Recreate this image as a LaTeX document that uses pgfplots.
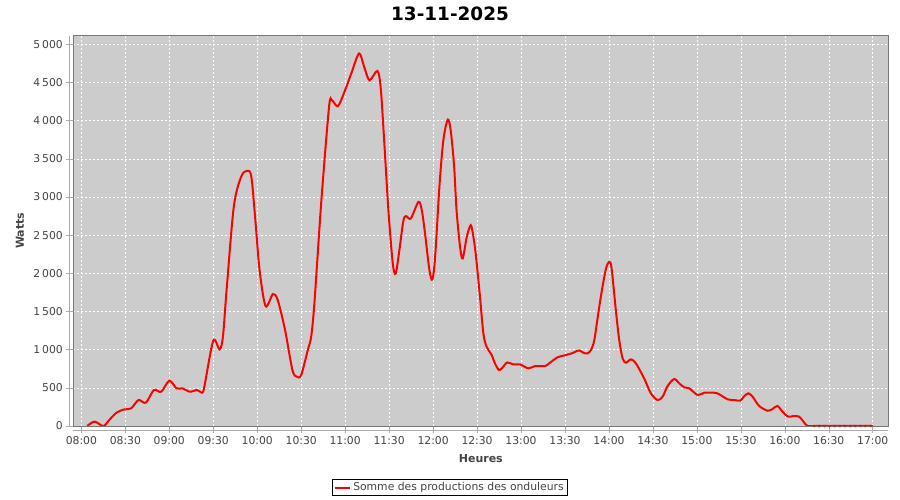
\documentclass[border=0pt]{standalone}
\usepackage{pgfplots}
\pgfplotsset{compat=1.18}
\usepackage{fontspec}
\setmainfont{DejaVu Sans}
\definecolor{plotbg}{RGB}{204,204,204}
\definecolor{txtgray}{RGB}{68,68,68}
\definecolor{bordergray}{RGB}{120,120,120}
\definecolor{axisgray}{RGB}{170,170,170}
\definecolor{linered}{RGB}{255,0,0}

\begin{document}
\begin{tikzpicture}[x=1pt,y=1pt]
\path[use as bounding box] (-73.3,-74) rectangle (826.7,426);
\begin{axis}[
  name=ax, at={(0,0)}, anchor=south west,
  scale only axis, width=815pt, height=390.3pt,
  xmin=-5.5, xmax=550.6, ymin=0, ymax=5113,
  axis background/.style={fill=plotbg},
  axis line style={bordergray, line width=0.8pt},
  grid=major,
  major grid style={white, dash pattern=on 2pt off 2pt, line width=0.6pt},
  xtick={0,30,...,540},
  xticklabels={08:00,08:30,09:00,09:30,10:00,10:30,11:00,11:30,12:00,12:30,13:00,13:30,14:00,14:30,15:00,15:30,16:00,16:30,17:00},
  ytick={0,500,...,5000},
  tick align=outside, major tick length=7pt,
  tick style={axisgray, line width=0.6pt},
  xtick pos=bottom, ytick pos=left,
  ticklabel style={font=\fontsize{10.8}{13}\selectfont, text=txtgray},
  /pgf/number format/assume math mode=true,
  /pgf/number format/1000 sep={\,},
  scaled y ticks=false,
  every axis title/.style={at={(axis description cs:0.4622,1.0556)}, anchor=center,
    font=\fontsize{18.4}{22}\selectfont\bfseries, text=black},
  title={13-11-2025},
  every axis x label/.style={at={(axis description cs:0.5,-0.0846)}, anchor=center,
    font=\fontsize{11}{13}\selectfont\bfseries, text=txtgray},
  every axis y label/.style={at={(axis description cs:-0.0654,0.5)}, anchor=center, rotate=90,
    font=\fontsize{11}{13}\selectfont\bfseries, text=txtgray},
  xlabel={Heures}, ylabel={Watts},
  legend style={at={(axis description cs:0.4622,-0.1576)}, anchor=center,
    draw=black, line width=0.8pt, fill=white,
    font=\fontsize{10.8}{13}\selectfont, text=txtgray,
    inner xsep=2pt, inner ysep=1pt},
  legend image code/.code={\draw[linered, line width=2pt] (0pt,0pt) -- (15pt,0pt);},
]
\addplot[linered, line width=2pt, smooth, tension=0.5] coordinates {
(4,0)(9,57)(15,0)(19,78)(24,175)(29.5,218)(34,231)(39,340)(44,305)(49.5,471)
(54.5,449)(60,593)(65,493)(69,493)(74,449)(79,471)(82.5,436)(84,523)(90,1117)
(94.3,1003)(96.6,1169)(99,1758)(104,2871)(109,3264)(113,3342)(116,3264)(119,2631)
(121.6,2042)(125.7,1571)(130.7,1728)(134,1649)(139,1257)(144,733)(147,646)(150,667)
(154.5,995)(156.8,1169)(159,1606)(163.7,2936)(169,4180)(171,4267)(175,4189)
(179.5,4376)(184.3,4625)(189.5,4880)(193,4703)(196.6,4529)(202,4651)(204.3,4420)
(206.6,3743)(209.5,2827)(212.5,2129)(214.5,1998)(217,2304)(219.7,2688)(221.6,2749)
(224.8,2718)(230,2936)(232.3,2827)(234.5,2522)(237.5,2042)(239.5,1920)(241.4,2216)
(244.3,3133)(247,3743)(250,4014)(252,3874)(254.3,3416)(256,2827)(258.4,2347)
(260.2,2195)(263,2478)(265.7,2631)(267.5,2478)(269.3,2216)(272,1693)(274.3,1213)
(276.5,1038)(280,929)(282.2,820)(285,733)(287.5,768)(290.6,833)(294.7,807)
(299.3,807)(305,755)(309.5,785)(316.3,785)(319.8,829)(324.8,899)(329.6,925)
(334.5,951)(339.5,990)(342.5,960)(345.3,951)(347.7,995)(350,1126)(352.7,1475)
(355.2,1780)(358,2064)(360.2,2151)(361.8,2064)(364.8,1497)(367,1126)(369.3,886)
(371.6,829)(375,873)(378.4,820)(384,624)(388.6,428)(393.2,340)(396.6,384)
(400,523)(404.5,615)(408,558)(411.4,506)(414.8,493)(420.5,406)(425,436)
(429.6,436)(434,428)(441,349)(445.5,340)(449.6,332)(452,384)(455,428)(458,384)
(462.5,262)(468.2,200)(471.6,223)(475,262)(478.4,188)(482.3,122)(486,131)
(489.8,122)(492.7,57)(495.5,0)(500,0)(540,0)
};
\addlegendentry{Somme des productions des onduleurs}
\addplot[only marks, mark=*, mark size=1pt, linered, forget plot] coordinates {
(500,0)(503.5,0)(507,0)(510.5,0)(514,0)(517.5,0)(521,0)(524.5,0)(528,0)(531.5,0)(535,0)(538.5,0)
};
\end{axis}
\draw[axisgray, line width=0.8pt] ([xshift=-4pt]ax.south west) -- ([xshift=-4pt]ax.north west);
\draw[axisgray, line width=0.8pt] ([yshift=-4pt]ax.south west) -- ([yshift=-4pt]ax.south east);
\end{tikzpicture}
\end{document}
